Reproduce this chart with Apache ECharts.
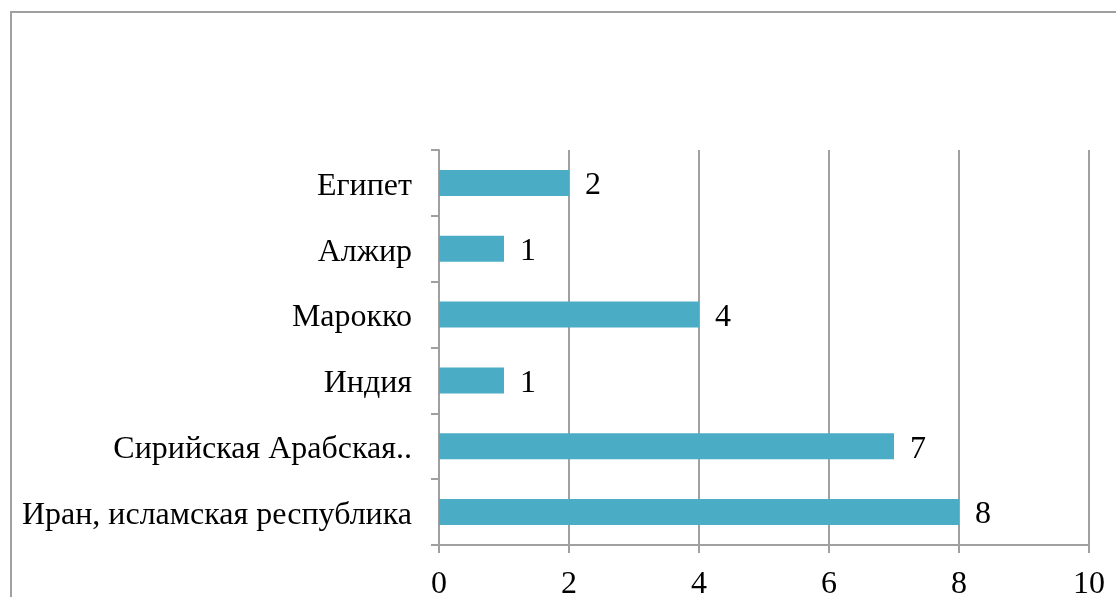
<!DOCTYPE html>
<html>
<head>
<meta charset="utf-8">
<script src="https://cdn.jsdelivr.net/npm/echarts@6/dist/echarts.min.js"></script>
<style>
  html, body { margin: 0; padding: 0; background: #fff; }
  #chart { width: 1116px; height: 597px; }
</style>
</head>
<body>
<div id="chart"></div>
<script>
// категории снизу вверх
const countries = ['Иран, исламская республика', 'Сирийская Арабская Республика', 'Индия', 'Марокко', 'Алжир', 'Египет'];
const counts = [8, 7, 1, 4, 1, 2];
const xTicks = [0, 2, 4, 6, 8, 10];

const chart = echarts.init(document.getElementById('chart'));
const font = '"Liberation Serif", "DejaVu Serif", serif';

const options = {
  animation: false,
  textStyle: { fontFamily: font },
  graphic: [{
    type: 'rect',
    shape: { x: 11, y: 12, width: 1300, height: 800 },
    style: { fill: 'none', stroke: '#a0a0a0', lineWidth: 2 }
  }],
  grid: { left: 439, right: 27, top: 150, bottom: 52, outerBoundsMode: 'none' },
  xAxis: {
    type: 'value',
    min: xTicks[0],
    max: xTicks[xTicks.length - 1],
    interval: 2,
    axisLine: { show: true, lineStyle: { color: '#a0a0a0', width: 2 } },
    axisTick: { show: true, length: 8, lineStyle: { color: '#a0a0a0', width: 2 } },
    axisLabel: { color: '#000', fontSize: 32, fontFamily: font, margin: 24 },
    splitLine: { show: true, lineStyle: { color: '#a0a0a0', width: 2 } }
  },
  yAxis: {
    type: 'category',
    data: countries,
    axisLine: { show: true, lineStyle: { color: '#a0a0a0', width: 2 } },
    axisTick: { show: true, length: 8, lineStyle: { color: '#a0a0a0', width: 2 } },
    axisLabel: {
      color: '#000', fontSize: 32, fontFamily: font, margin: 27,
      // длинное название обрезано, как в оригинале
      formatter: v => '{t|' + (v === 'Сирийская Арабская Республика' ? 'Сирийская Арабская..' : v) + '}',
      rich: {
        t: { color: '#000', fontSize: 32, fontFamily: font, padding: [7, 0, 0, 0] }
      }
    }
  },
  series: [{
    type: 'bar',
    data: counts,
    barWidth: 26,
    itemStyle: { color: '#4bacc6' },
    label: {
      show: true, position: 'right', distance: 16, offset: [0, 3],
      color: '#000', fontSize: 32, fontFamily: font
    }
  }]
};

chart.setOption(options);
</script>
</body>
</html>
